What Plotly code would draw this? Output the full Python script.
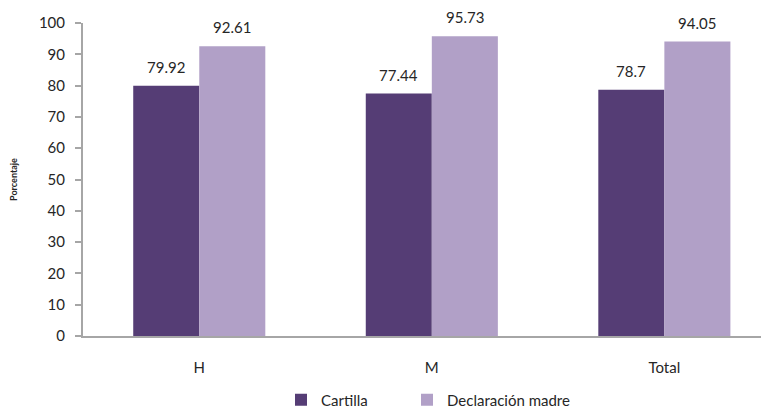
import plotly.graph_objects as go

categories = ["H", "M", "Total"]
cartilla = [79.92, 77.44, 78.7]
declaracion = [92.61, 95.73, 94.05]
series_names = ["Cartilla", "Declaración madre"]
y_ticks = [0, 10, 20, 30, 40, 50, 60, 70, 80, 90, 100]

FONT = "Lato, Carlito, Calibri, sans-serif"
TXT = "#262626"
COLORS = ["#553D75", "#B1A0C7"]

fig = go.Figure()
for name, vals, col, lg in zip(series_names, [cartilla, declaracion], COLORS, ["legend", "legend2"]):
    fig.add_trace(go.Bar(
        x=categories, y=vals, name=name, legend=lg,
        marker=dict(color=col, line=dict(width=0)),
    ))

# value labels above bars
for vals, shift in [(cartilla, -33), (declaracion, 33)]:
    for c, v in zip(categories, vals):
        fig.add_annotation(x=c, y=v, text=str(v), showarrow=False,
                           xshift=shift, yshift=8, yanchor="bottom",
                           font=dict(size=15, color=TXT, family=FONT))

W = 761
leg_common = dict(orientation="h", xref="container", xanchor="left",
                  y=0.025, yref="container", yanchor="middle",
                  font=dict(size=15, color=TXT, family=FONT),
                  itemwidth=30, bgcolor="rgba(0,0,0,0)")

fig.update_layout(
    width=W, height=402,
    margin=dict(l=75, r=0, t=15, b=74, autoexpand=False),
    paper_bgcolor="white", plot_bgcolor="white",
    barmode="group", bargap=0.432, bargroupgap=0,
    font=dict(family=FONT, size=15, color=TXT),
    showlegend=True,
    legend=dict(x=(281 - 8) / W, **leg_common),
    legend2=dict(x=(407 - 8) / W, **leg_common),
)
fig.update_xaxes(
    range=[-0.5, 2.45], showline=True, linecolor="#A6A6A6", linewidth=2,
    ticks="", showgrid=False, tickfont=dict(size=15, color=TXT, family=FONT),
    ticklabelstandoff=17,
)
fig.update_yaxes(
    range=[0, 100], tickvals=y_ticks, showline=True, linecolor="#A6A6A6", linewidth=2,
    ticks="outside", ticklen=6, tickcolor="#A6A6A6", tickwidth=1.5,
    showgrid=False, zeroline=False, tickfont=dict(size=15, color=TXT, family=FONT),
    ticklabelstandoff=7,
    title=dict(text="<b>Porcentaje</b>", font=dict(size=9, color=TXT, family=FONT), standoff=30),
)

fig.write_html("out.html")
